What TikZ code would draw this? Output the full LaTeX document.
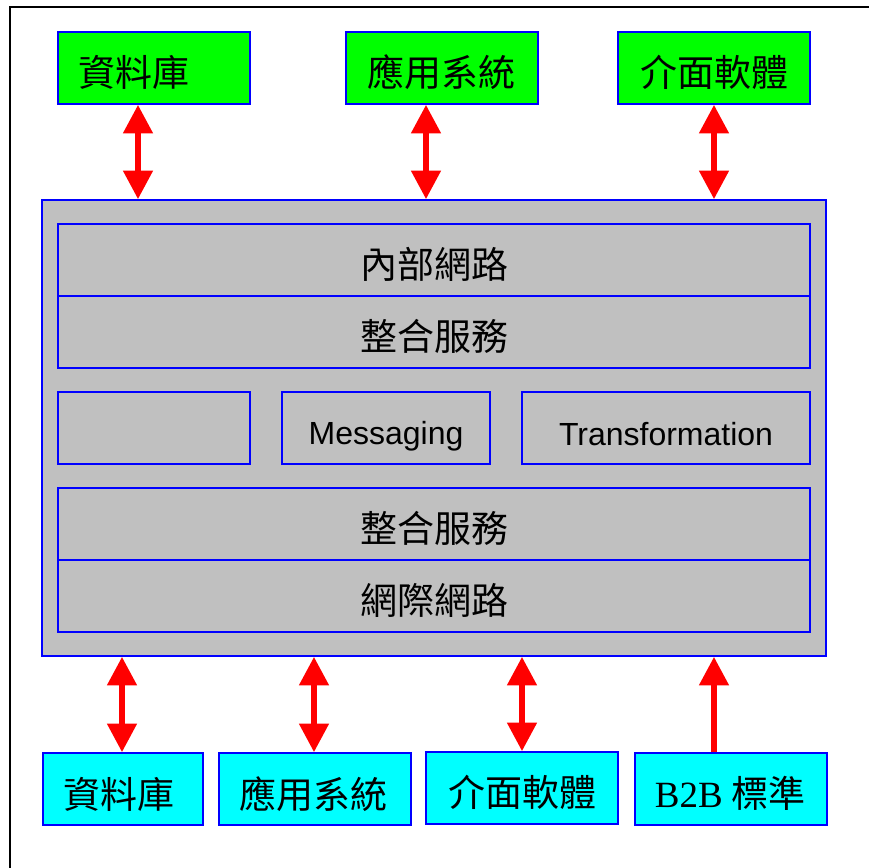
\documentclass[tikz,border=0pt]{standalone}
\usepackage{fontspec}
\usetikzlibrary{arrows.meta}
\setmainfont{Liberation Sans}
\newfontfamily\cjk{Noto Sans CJK TC}
\newfontfamily\timesf{Liberation Serif}
\definecolor{panelgray}{RGB}{192,192,192}
\definecolor{boxgreen}{RGB}{0,255,0}
\definecolor{boxcyan}{RGB}{0,255,255}
\tikzset{
  bx/.style={draw=blue,line width=1.2pt,inner sep=0pt},
  topbox/.style={bx,fill=boxgreen,minimum width=144pt,minimum height=54pt},
  botbox/.style={bx,fill=boxcyan,minimum height=54pt},
  panel/.style={bx,fill=panelgray},
  rowbox/.style={panel,minimum width=564pt,minimum height=54pt},
  midbox/.style={panel,minimum height=54pt},
  lbl/.style={font=\cjk\fontsize{27.75pt}{30pt}\selectfont,text=black,inner sep=0pt},
  lat/.style={font=\fontsize{24pt}{28pt}\selectfont,text=black,inner sep=0pt},
  two/.style={draw=red,line width=4.5pt,{Triangle[length=21.5pt,width=21.5pt,fill=red]}-{Triangle[length=21.5pt,width=21.5pt,fill=red]}},
  one/.style={draw=red,line width=4.5pt,-{Triangle[length=21.5pt,width=21.5pt,fill=red]}},
  frameline/.style={draw=black,line width=1.5pt},
}
\begin{document}
\begin{tikzpicture}[x=0.75pt,y=-0.75pt]
\useasboundingbox (0,0) rectangle (869,868);
\draw[frameline] (10,868) -- (10,7) -- (869,7);

% top boxes
\node[topbox] (g1) at (154,68) {};
\node[topbox] (g2) at (442,68) {};
\node[topbox] (g3) at (714,68) {};
\node[lbl] (tg1) at (134.5,72) {資料庫};
\node[lbl] (tg2) at (441,72) {應用系統};
\node[lbl] (tg3) at (714,72) {介面軟體};

% main panel
\node[panel,minimum width=588pt,minimum height=342pt] (main) at (434,428) {};
\node[rowbox] (r1) at (434,260) {};
\node[rowbox] (r2) at (434,332) {};
\node[midbox,minimum width=144pt] (m1) at (154,428) {};
\node[midbox,minimum width=156pt] (m2) at (386,428) {};
\node[midbox,minimum width=216pt] (m3) at (666,428) {};
\node[rowbox] (r3) at (434,524) {};
\node[rowbox] (r4) at (434,596) {};
\node[lbl] (tr1) at (434.5,264) {內部網路};
\node[lbl] (tr2) at (434.5,336) {整合服務};
\node[lat] (tm2) at (386,436.5) {Messaging};
\node[lat] (tm3) at (666,434) {Transformation};
\node[lbl] (tr3) at (434.5,528) {整合服務};
\node[lbl] (tr4) at (434.5,600) {網際網路};

% bottom boxes
\node[botbox,minimum width=120pt] (c1) at (123,789) {};
\node[botbox,minimum width=144pt] (c2) at (315,789) {};
\node[botbox,minimum width=144pt] (c3) at (522,788) {};
\node[botbox,minimum width=144pt] (c4) at (731,789) {};
\node[lbl] (tc1) at (119.5,794) {資料庫};
\node[lbl] (tc2) at (313.5,794) {應用系統};
\node[lbl] (tc3) at (522,792) {介面軟體};
\node[lbl] (tc4) at (730,793) {{\timesf B2B} 標準};

% arrow columns
\coordinate (xa) at (138,0);
\coordinate (xb) at (426,0);
\coordinate (xc) at (714,0);
\coordinate (xd) at (122,0);
\coordinate (xe) at (314,0);
\coordinate (xf) at (522,0);

\draw[two] (g1.south -| xa) -- (main.north -| xa);
\draw[two] (g2.south -| xb) -- (main.north -| xb);
\draw[two] (g3.south -| xc) -- (main.north -| xc);
\draw[two] (main.south -| xd) -- (c1.north -| xd);
\draw[two] (main.south -| xe) -- (c2.north -| xe);
\draw[two] (main.south -| xf) -- (c3.north -| xf);
\draw[one] (c4.north -| xc) -- (main.south -| xc);
\end{tikzpicture}
\end{document}
